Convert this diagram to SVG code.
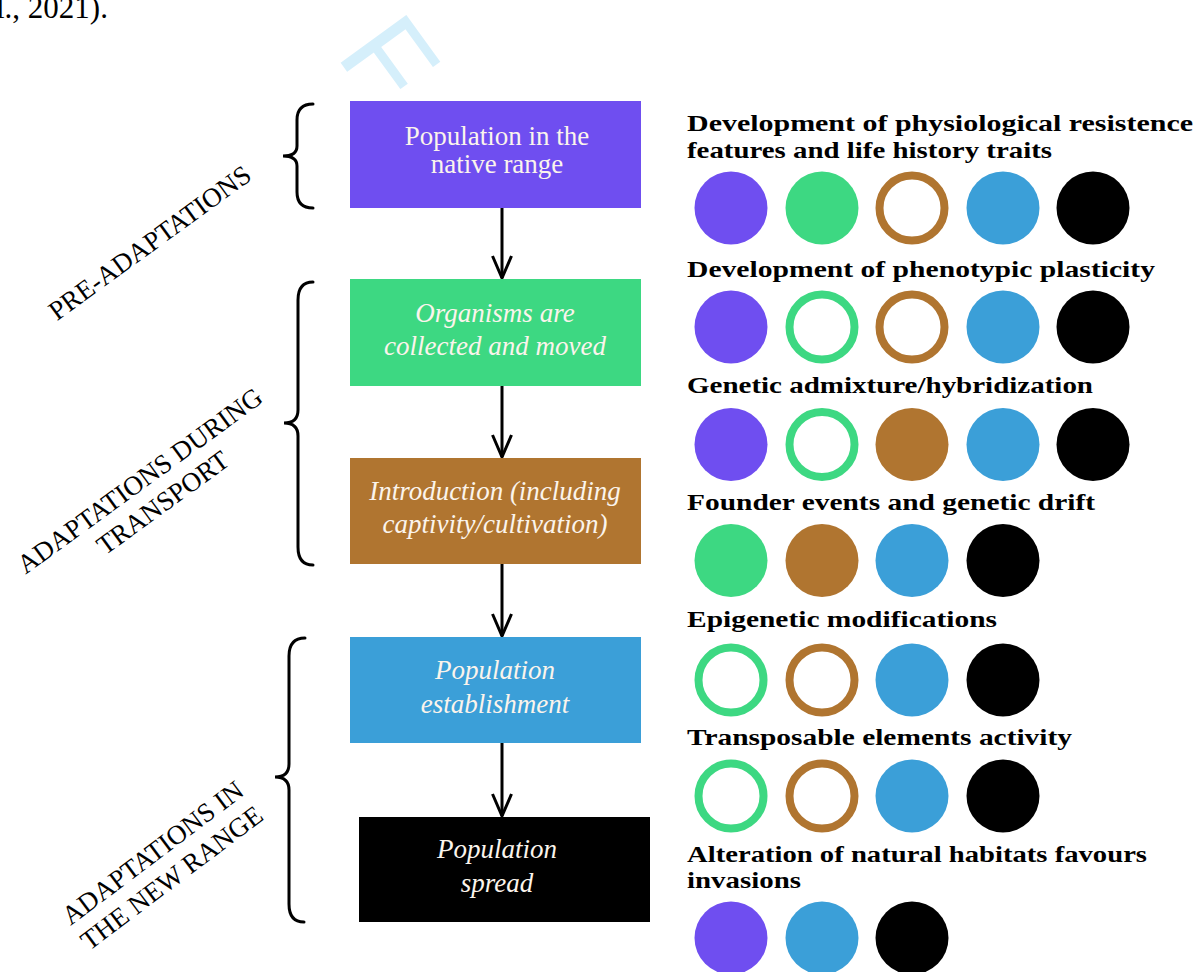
<svg xmlns="http://www.w3.org/2000/svg" width="1200" height="972" viewBox="0 0 1200 972">
<defs>
<style>
.box-t{font-family:"Liberation Serif","Times New Roman",serif;font-size:27px;fill:#fbf4ec;text-anchor:middle}
.it{font-style:italic}
.lbl{font-family:"Liberation Serif","Times New Roman",serif;font-size:27px;fill:#000;text-anchor:middle}
.rt{font-family:"Liberation Serif","Times New Roman",serif;font-size:24px;font-weight:bold;fill:#000}
.brace{fill:none;stroke:#000;stroke-width:3;stroke-linecap:round}
.conn{fill:none;stroke:#000;stroke-width:3}
.pu{fill:#6f4ef0}.gr{fill:#3dd882}.br{fill:#b07530}.bl{fill:#3b9fd8}.bk{fill:#000}
.rgr{fill:none;stroke:#3dd882;stroke-width:8}
.rbr{fill:none;stroke:#b07530;stroke-width:8}
</style>
<marker id="arr" markerWidth="24" markerHeight="26" refX="12" refY="23" orient="0" markerUnits="userSpaceOnUse">
<path d="M2.5,1 L12,23 L21.5,1" fill="none" stroke="#000" stroke-width="3"/>
</marker>
</defs>
<rect width="1200" height="972" fill="#fff"/>
<text x="-4" y="18" style="font-family:'Liberation Serif','Times New Roman',serif;font-size:31px;fill:#000">l., 2021).</text>
<text transform="translate(335,55) rotate(54)" style="font-family:'Liberation Sans',Arial,sans-serif;font-size:118px;fill:#d5effb">F</text>

<g id="connectors">
<line class="conn" x1="502" y1="208" x2="502" y2="278" marker-end="url(#arr)"/>
<line class="conn" x1="502" y1="386" x2="502" y2="457" marker-end="url(#arr)"/>
<line class="conn" x1="502" y1="564" x2="502" y2="636" marker-end="url(#arr)"/>
<line class="conn" x1="502" y1="743" x2="502" y2="816" marker-end="url(#arr)"/>
</g>

<g id="node-native">
<rect x="350" y="101" width="291" height="107" fill="#6f4ef0"/>
<text class="box-t" x="497" y="145">Population in the</text>
<text class="box-t" x="497" y="173">native range</text>
</g>
<g id="node-collected">
<rect x="350" y="279" width="291" height="107" fill="#3dd882"/>
<text class="box-t it" x="495" y="322">Organisms are</text>
<text class="box-t it" x="495" y="355">collected and moved</text>
</g>
<g id="node-introduction">
<rect x="350" y="458" width="291" height="106" fill="#b07530"/>
<text class="box-t it" x="495" y="500">Introduction (including</text>
<text class="box-t it" x="495" y="533">captivity/cultivation)</text>
</g>
<g id="node-establishment">
<rect x="350" y="637" width="291" height="106" fill="#3b9fd8"/>
<text class="box-t it" x="495" y="679">Population</text>
<text class="box-t it" x="495" y="713">establishment</text>
</g>
<g id="node-spread">
<rect x="359" y="817" width="291" height="105" fill="#000"/>
<text class="box-t it" x="497" y="858">Population</text>
<text class="box-t it" x="497" y="892">spread</text>
</g>

<g id="brace-pre">
<path class="brace" d="M313,104 Q297,104 297,120 L297,146 Q297,156 283,156 Q297,156 297,166 L297,192 Q297,208 313,208"/>
<text class="lbl" transform="translate(155,250) rotate(-36)">PRE-ADAPTATIONS</text>
</g>
<g id="brace-transport">
<path class="brace" d="M313,282 Q298,282 298,300 L298,410 Q298,423 284,423 Q298,423 298,436 L298,547 Q298,565 313,565"/>
<text class="lbl" transform="translate(145,488) rotate(-36)">ADAPTATIONS DURING</text>
<text class="lbl" transform="translate(168,510) rotate(-36)">TRANSPORT</text>
</g>
<g id="brace-new">
<path class="brace" d="M305,638 Q289,638 289,656 L289,764 Q289,777 275,777 Q289,777 289,790 L289,904 Q289,922 304,922"/>
<text class="lbl" transform="translate(158,860) rotate(-37)">ADAPTATIONS IN</text>
<text class="lbl" transform="translate(177,885) rotate(-37)">THE NEW RANGE</text>
</g>

<g id="row-physiological">
<text class="rt" x="687" y="131" textLength="506" lengthAdjust="spacingAndGlyphs">Development of physiological resistence</text>
<text class="rt" x="687" y="158" textLength="365" lengthAdjust="spacingAndGlyphs">features and life history traits</text>
<circle class="pu" cx="731" cy="208" r="36.5"/>
<circle class="gr" cx="822" cy="208" r="36.5"/>
<circle class="rbr" cx="912" cy="208" r="32.5"/>
<circle class="bl" cx="1003" cy="208" r="36.5"/>
<circle class="bk" cx="1093" cy="208" r="36.5"/>
</g>
<g id="row-plasticity">
<text class="rt" x="687" y="277" textLength="468" lengthAdjust="spacingAndGlyphs">Development of phenotypic plasticity</text>
<circle class="pu" cx="731" cy="327" r="36.5"/>
<circle class="rgr" cx="822" cy="327" r="32.5"/>
<circle class="rbr" cx="912" cy="327" r="32.5"/>
<circle class="bl" cx="1003" cy="327" r="36.5"/>
<circle class="bk" cx="1093" cy="327" r="36.5"/>
</g>
<g id="row-admixture">
<text class="rt" x="687" y="393" textLength="406" lengthAdjust="spacingAndGlyphs">Genetic admixture/hybridization</text>
<circle class="pu" cx="731" cy="444.5" r="36.5"/>
<circle class="rgr" cx="822" cy="444.5" r="32.5"/>
<circle class="br" cx="912" cy="444.5" r="36.5"/>
<circle class="bl" cx="1003" cy="444.5" r="36.5"/>
<circle class="bk" cx="1093" cy="444.5" r="36.5"/>
</g>
<g id="row-founder">
<text class="rt" x="687" y="510" textLength="408" lengthAdjust="spacingAndGlyphs">Founder events and genetic drift</text>
<circle class="gr" cx="731" cy="560.5" r="36.5"/>
<circle class="br" cx="822" cy="560.5" r="36.5"/>
<circle class="bl" cx="912" cy="560.5" r="36.5"/>
<circle class="bk" cx="1003" cy="560.5" r="36.5"/>
</g>
<g id="row-epigenetic">
<text class="rt" x="687" y="627" textLength="310" lengthAdjust="spacingAndGlyphs">Epigenetic modifications</text>
<circle class="rgr" cx="731" cy="680" r="32.5"/>
<circle class="rbr" cx="822" cy="680" r="32.5"/>
<circle class="bl" cx="912" cy="680" r="36.5"/>
<circle class="bk" cx="1003" cy="680" r="36.5"/>
</g>
<g id="row-transposable">
<text class="rt" x="687" y="745" textLength="385" lengthAdjust="spacingAndGlyphs">Transposable elements activity</text>
<circle class="rgr" cx="731" cy="796" r="32.5"/>
<circle class="rbr" cx="822" cy="796" r="32.5"/>
<circle class="bl" cx="912" cy="796" r="36.5"/>
<circle class="bk" cx="1003" cy="796" r="36.5"/>
</g>
<g id="row-habitats">
<text class="rt" x="687" y="862" textLength="460" lengthAdjust="spacingAndGlyphs">Alteration of natural habitats favours</text>
<text class="rt" x="687" y="888" textLength="114" lengthAdjust="spacingAndGlyphs">invasions</text>
<circle class="pu" cx="731" cy="938" r="36.5"/>
<circle class="bl" cx="822" cy="938" r="36.5"/>
<circle class="bk" cx="912" cy="938" r="36.5"/>
</g>
</svg>
